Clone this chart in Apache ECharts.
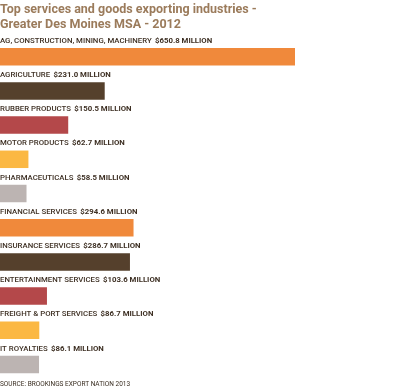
<!DOCTYPE html>
<html><head><meta charset="utf-8">
<script src="https://cdn.jsdelivr.net/npm/echarts@6/dist/echarts.min.js"></script>
<style>html,body{margin:0;padding:0;background:#fff}#c{width:400px;height:390px}</style>
</head><body><div id="c"></div>
<script>
var categories = ["AG, CONSTRUCTION, MINING, MACHINERY","AGRICULTURE","RUBBER PRODUCTS","MOTOR PRODUCTS","PHARMACEUTICALS","FINANCIAL SERVICES","INSURANCE SERVICES","ENTERTAINMENT SERVICES","FREIGHT & PORT SERVICES","IT ROYALTIES"];
var values = [650.8,231.0,150.5,62.7,58.5,294.6,286.7,103.6,86.7,86.1];
var colors = ["#f0893b","#55402c","#b4484a","#fbb843","#bcb4b2","#f0893b","#55402c","#b4484a","#fbb843","#bcb4b2"];
var chart = echarts.init(document.getElementById('c'));
chart.setOption({
  animation:false,
  title:[{text:"Top services and goods exporting industries -\nGreater Des Moines MSA - 2012",left:0,top:2,padding:0,
    textStyle:{color:"#9b7b5b",fontSize:12.5,fontWeight:"bold",fontFamily:"Roboto",lineHeight:15.5}},
    {text:"SOURCE: BROOKINGS EXPORT NATION 2013",left:0,top:381,padding:0,textStyle:{color:"#3a2e22",fontSize:6.5,fontWeight:"normal",fontFamily:"Roboto"}}],
  grid:{left:0,width:295,top:39.6,height:342},
  xAxis:{type:"value",min:0,max:function(v){return v.max;},show:false},
  yAxis:{type:"category",data:categories,inverse:true,show:false},
  series:[{type:"bar",barWidth:17.5,
    data:values.map(function(v,i){return {value:v,itemStyle:{color:colors[i]}};}),
    label:{show:true,position:[0,-7],align:"left",verticalAlign:"middle",
      formatter:function(p){return "{n|"+p.name+"} {v|$"+p.value.toFixed(1)+" MILLION}";},
      rich:{n:{color:"#3e3024",fontSize:7.8,fontWeight:500,fontFamily:"Roboto"},
            v:{color:"#3e3024",fontSize:7.8,fontWeight:"bold",fontFamily:"Roboto"}}}
  }]
});
</script></body></html>
